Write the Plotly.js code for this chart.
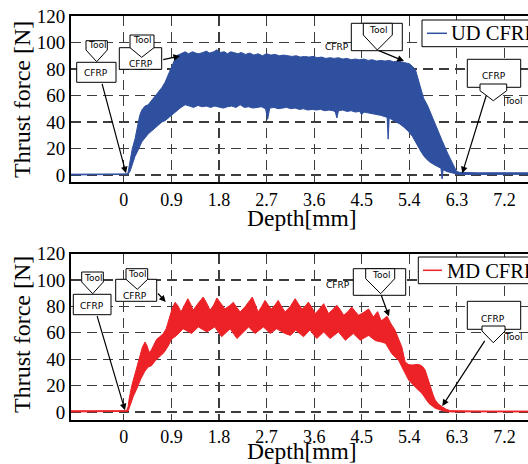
<!DOCTYPE html>
<html><head><meta charset="utf-8">
<script src="https://cdn.plot.ly/plotly-3.0.1.min.js"></script>
<style>html,body{margin:0;padding:0;overflow:hidden;background:#fff;width:528px;height:464px}#chart{width:560px;height:464px}</style>
</head><body><div id="chart"></div><script>
// ---------- data ----------
const xTickVals = [0, 0.9, 1.8, 2.7, 3.6, 4.5, 5.4, 6.3, 7.2];
const xTickText = ["0", "0.9", "1.8", "2.7", "3.6", "4.5", "5.4", "6.3", "7.2"];
const yTickVals = [0, 20, 40, 60, 80, 100, 120];

// UD CFRP: upper and lower envelope of the thrust-force band
const udUpperDepth = [-1.0,-0.6,-0.2,0.05,0.08,0.12,0.16,0.21,0.26,0.30,0.34,0.40,0.46,0.52,0.58,0.65,0.72,0.78,0.84,0.90,0.95,1.00,1.05,1.10,1.16,1.22,1.30,1.36,1.42,1.50,1.56,1.62,1.70,1.76,1.82,1.90,1.96,2.02,2.10,2.16,2.22,2.30,2.38,2.46,2.54,2.62,2.70,2.78,2.86,2.94,3.02,3.10,3.18,3.26,3.34,3.42,3.50,3.58,3.66,3.74,3.82,3.90,3.98,4.06,4.14,4.22,4.30,4.38,4.46,4.54,4.62,4.70,4.78,4.86,4.94,5.02,5.10,5.18,5.26,5.34,5.40,5.46,5.52,5.57,5.62,5.67,5.75,5.83,5.94,6.02,6.13,6.21,6.29,6.34,6.45,6.7,7.0,7.3,7.74];
const udUpperForce = [0.6,0.7,0.6,0.8,2,12,20,27,38,45,49,52,53,56,59,62,66,70,76,81,86,90,91,92,93,91.5,93,92,91.5,92.5,93.5,92,93,94.5,92.5,93,91.5,93,92,91.5,92.5,91,92,90.5,91.5,90,91.5,90.5,91,90,90.5,90,89.5,90,89,89.5,89,89.5,88.5,89,88,88.5,88,88.5,87.5,88,87,87.5,87,87.5,86.5,87,86,86.5,86,86.5,85.5,86,85,84.5,84,82,79,72,63,58,52,44,34,26,16,9,3,2,1.8,1.6,1.7,1.5,1.6];
const udLowerDepth = [-1.0,-0.6,-0.2,0.05,0.08,0.12,0.16,0.21,0.26,0.30,0.34,0.40,0.46,0.52,0.58,0.65,0.72,0.78,0.84,0.90,0.95,1.00,1.05,1.10,1.16,1.24,1.32,1.40,1.48,1.56,1.64,1.72,1.80,1.88,1.96,2.04,2.12,2.20,2.28,2.36,2.44,2.52,2.60,2.68,2.72,2.76,2.84,2.92,3.00,3.08,3.16,3.24,3.32,3.40,3.48,3.56,3.64,3.72,3.80,3.88,3.96,4.00,4.03,4.06,4.14,4.22,4.30,4.38,4.46,4.50,4.54,4.62,4.70,4.78,4.86,4.94,4.98,5.00,5.02,5.06,5.14,5.22,5.30,5.38,5.46,5.55,5.63,5.70,5.78,5.86,5.94,6.00,6.02,6.04,6.12,6.20,6.28,6.34,6.45,6.7,7.0,7.3,7.74];
const udLowerForce = [0,0,0,0,0.5,3,8,14,18,22,25,28,31,33,35,38,40,41,43,45,47,49,50,51.5,53,52,51,52.5,51.5,52,51,52,51.5,50.5,51.5,52,51,53,51,51.5,50.5,51,51.5,50,42,50.5,51,50,50.5,51,50,50.5,49.5,50,49,49.5,49,49.5,48.5,49,48.5,47.5,43,48.5,49,48,48.5,47.5,48,45.5,47.5,47,46.5,46,45,44,43.5,27,43,42,40.5,38.5,36,33,29,22,17,13,10,8,6,5,-3,4,2.5,1.5,0.6,0.3,0.4,0.4,0.5,0.4,0.5];

// MD CFRP: upper and lower envelope of the thrust-force band
const mdUpperDepth = [-1.0,-0.6,-0.2,0.05,0.08,0.10,0.15,0.20,0.25,0.30,0.35,0.40,0.44,0.48,0.52,0.57,0.62,0.68,0.74,0.80,0.84,0.88,0.92,0.97,1.03,1.08,1.14,1.21,1.26,1.31,1.40,1.50,1.56,1.63,1.70,1.76,1.84,1.91,2.00,2.07,2.14,2.20,2.30,2.43,2.49,2.54,2.61,2.67,2.73,2.79,2.86,2.92,2.98,3.05,3.15,3.24,3.30,3.37,3.43,3.49,3.56,3.62,3.70,3.78,3.83,3.87,3.95,4.03,4.10,4.16,4.24,4.31,4.38,4.44,4.54,4.63,4.72,4.80,4.87,4.94,4.98,5.05,5.13,5.20,5.26,5.32,5.38,5.45,5.55,5.61,5.66,5.70,5.75,5.80,5.85,5.89,5.95,6.02,6.10,6.18,6.30,6.6,7.0,7.4,7.74];
const mdUpperForce = [0.9,1.0,0.8,1.0,4,10,20,27,35,43,49,53,50,45,47,51,55,57,59,63,68,74,79,83,80,75.7,80,85.8,82,77,82,87,83,77,81,86.3,82,78,80.5,83,79,75.7,80,87,81,75.7,80,84.5,81,78,81,84.5,80,75.7,80,85.8,82,78,80,83.2,79,74.5,78,82,78,74.5,77.5,80.8,77,73.2,76,79.5,76,73.2,75.5,78,72,76,69,71.5,72.5,67,62,55,49,38,36,35.5,36,35.5,34,31.7,25,19,13,9,6,4,2,1,0.8,0.8,0.7,0.8,0.7];
const mdLowerDepth = [-1.0,-0.6,-0.2,0.05,0.08,0.12,0.18,0.25,0.32,0.40,0.46,0.52,0.60,0.68,0.76,0.84,0.90,1.00,1.12,1.28,1.41,1.57,1.72,1.85,2.01,2.14,2.36,2.48,2.64,2.77,2.89,3.05,3.15,3.25,3.40,3.52,3.65,3.78,3.90,4.06,4.19,4.34,4.47,4.63,4.76,4.87,4.95,5.07,5.20,5.29,5.39,5.51,5.64,5.77,5.89,6.08,6.20,6.6,7.0,7.4,7.74];
const mdLowerForce = [0,0,0,0.1,0.5,5,12,18,25,31,34,35,39,42,45,50,55,58,63,59.4,64.4,60.6,64.4,57,63,55.6,64.4,59.4,64.4,59.4,63,59.4,58,61.9,57,62,55.6,60.6,55.6,60.6,54.3,59.4,54.3,58,54,53,52,44,39,31.7,24,19,14,6.5,2.8,0.3,0,0.1,0,0.1,0];

const seriesNames = ["UD CFRP", "MD CFRP"];
const seriesColors = ["#2f4f9f", "#ec2227"];
const xTitle = "Depth[mm]";
const yTitle = "Thrust force [N]";

// ---------- geometry helpers (pixel -> paper) ----------
const FIG_W = 560, FIG_H = 464, PLOT_L = 71, PLOT_R = 533;
const fx = p => (p - PLOT_L) / (PLOT_R - PLOT_L);
const fy = p => (FIG_H - p) / FIG_H;

const FONT_SERIF = "Liberation Serif, Times New Roman, serif";
const FONT_SMALL = "DejaVu Sans, sans-serif";

// ---------- traces ----------
function band(xl, yl, xu, yu, color, name, xa, ya) {
  return [
    {x: xl, y: yl, type: "scatter", mode: "lines", line: {color: color, width: 1}, name: name, showlegend: false, xaxis: xa, yaxis: ya, hoverinfo: "skip"},
    {x: xu, y: yu, type: "scatter", mode: "lines", fill: "tonexty", fillcolor: color, line: {color: color, width: 1}, name: name, showlegend: false, xaxis: xa, yaxis: ya, hoverinfo: "skip"}
  ];
}
const data = [
  ...band(udLowerDepth, udLowerForce, udUpperDepth, udUpperForce, seriesColors[0], seriesNames[0], "x", "y"),
  ...band(mdLowerDepth, mdLowerForce, mdUpperDepth, mdUpperForce, seriesColors[1], seriesNames[1], "x2", "y2")
];

// ---------- decorations: tool/CFRP icons, arrows, legends, titles ----------
const icons = [
  {rect:[76.7,62.3,116,82.3], cfrp:[96,73], tool:[86,107.3,40.7,50,96.7,61.7], toolText:[96.7,45.5], arrow:[101.7,82.3,126,173.3]},
  {rect:[119.3,47.7,161.7,69.3], cfrp:[141,63.5], tool:[130,154,35,47.7,141.7,57.3], toolText:[142,40], arrow:[161.7,60,180,56]},
  {rect:[351.3,23.3,402.3,50.7], cfrp:[336.5,46.5], tool:[363.3,392.3,23.3,35,377.3,50], toolText:[377.7,29.5], arrow:[377.3,50,404,61]},
  {rect:[467.3,59.3,520.7,87.3], cfrp:[494,76], tool:[480,506.7,84,90.7,493.3,100.7], toolText:[512.5,101], arrow:[486.7,94,462.3,173.3]},
  {rect:[73.3,294.3,111,314.7], cfrp:[92,306], tool:[81.7,103.3,272,282,92.7,293.7], toolText:[92.7,277.5], arrow:[96.7,314.7,125,410.3]},
  {rect:[115.7,279.3,156.7,301.3], cfrp:[135,296], tool:[126,147.7,268.7,279.3,137.3,289.3], toolText:[137,273.7], arrow:[156.7,292,165.7,302]},
  {rect:[353.3,268.7,405.7,295.3], cfrp:[338,284.7], tool:[365.7,394.7,268.7,278.7,380.7,293.7], toolText:[380.7,274.5], arrow:[380.7,293.7,389,316.3]},
  {rect:[467.3,301.3,520.7,329.3], cfrp:[493.3,318.7], tool:[482,505,326,331,493.3,342.7], toolText:[513.3,337.3], arrow:[485.7,339.3,442.3,406]}
];
const legends = [
  {box:[422,20,575,46.7], line:[427,447,33.3], text:[449,33.5], idx:0},
  {box:[418.3,257,575,283.7], line:[423,442,270.3], text:[444.7,270.5], idx:1}
];
const titles = [
  {text: xTitle, x: 302, y: 218, angle: 0, size: 23.5},
  {text: xTitle, x: 302, y: 451, angle: 0, size: 23.5},
  {text: yTitle, x: 22, y: 100, angle: -90, size: 24},
  {text: yTitle, x: 22, y: 335, angle: -90, size: 24}
];

const shapes = [], annotations = [];
icons.forEach(ic => {
  shapes.push({type:"rect", xref:"paper", yref:"paper", x0:fx(ic.rect[0]), x1:fx(ic.rect[2]), y0:fy(ic.rect[3]), y1:fy(ic.rect[1]), line:{color:"#000", width:1}, fillcolor:"#fff", layer:"above"});
  const [l, r, top, sh, px, py] = ic.tool;
  shapes.push({type:"path", xref:"paper", yref:"paper", path:`M${fx(l)},${fy(top)} L${fx(r)},${fy(top)} L${fx(r)},${fy(sh)} L${fx(px)},${fy(py)} L${fx(l)},${fy(sh)} Z`, line:{color:"#000", width:1}, fillcolor:"#fff", layer:"above"});
  annotations.push({xref:"paper", yref:"paper", x:fx(ic.cfrp[0]), y:fy(ic.cfrp[1]), text:"CFRP", showarrow:false, xanchor:"center", yanchor:"middle", font:{family:FONT_SMALL, size:9, color:"#000"}});
  annotations.push({xref:"paper", yref:"paper", x:fx(ic.toolText[0]), y:fy(ic.toolText[1]), text:"Tool", showarrow:false, xanchor:"center", yanchor:"middle", font:{family:FONT_SMALL, size:9, color:"#000"}});
  const [tx, ty, hx, hy] = ic.arrow;
  annotations.push({xref:"paper", yref:"paper", x:fx(hx), y:fy(hy), ax:tx-hx, ay:ty-hy, axref:"pixel", ayref:"pixel", text:"", showarrow:true, arrowhead:2, arrowsize:1.1, arrowwidth:1.2, arrowcolor:"#000", standoff:0, startstandoff:0});
});
legends.forEach(lg => {
  shapes.push({type:"rect", xref:"paper", yref:"paper", x0:fx(lg.box[0]), x1:fx(lg.box[2]), y0:fy(lg.box[3]), y1:fy(lg.box[1]), line:{color:"#000", width:1}, fillcolor:"#fff", layer:"above"});
  shapes.push({type:"line", xref:"paper", yref:"paper", x0:fx(lg.line[0]), x1:fx(lg.line[1]), y0:fy(lg.line[2]), y1:fy(lg.line[2]), line:{color:seriesColors[lg.idx], width:1.5}, layer:"above"});
  annotations.push({xref:"paper", yref:"paper", x:fx(lg.text[0]), y:fy(lg.text[1]), text:seriesNames[lg.idx], showarrow:false, xanchor:"left", yanchor:"middle", font:{family:FONT_SERIF, size:20.5, color:"#000"}});
});
titles.forEach(t => {
  annotations.push({xref:"paper", yref:"paper", x:fx(t.x), y:fy(t.y), text:t.text, textangle:t.angle, showarrow:false, xanchor:"center", yanchor:"middle", font:{family:FONT_SERIF, size:t.size, color:"#000"}});
});

// ---------- axes ----------
function xAxis(anchor) {
  return {anchor: anchor, range: [-1.0, 7.74], tickmode: "array", tickvals: xTickVals, ticktext: xTickText,
    showgrid: true, gridcolor: "#3c3c3c", gridwidth: 1.2, griddash: "10px,6px", zeroline: false,
    showline: true, linecolor: "#000", linewidth: 2, mirror: true, ticks: "", automargin: false,
    tickfont: {family: FONT_SERIF, size: 18, color: "#000"}};
}
function yAxis(anchor, domain, lo) {
  return {anchor: anchor, domain: domain, range: [lo, 120], tickmode: "array", tickvals: yTickVals,
    showgrid: true, gridcolor: "#3c3c3c", gridwidth: 1.2, griddash: "10px,6px", zeroline: false,
    showline: true, linecolor: "#000", linewidth: 2, mirror: true, ticks: "", automargin: false,
    tickfont: {family: FONT_SERIF, size: 19, color: "#000"}};
}

const layout = {
  width: FIG_W, height: FIG_H,
  margin: {l: PLOT_L, r: FIG_W - PLOT_R, t: 0, b: 0, pad: 0, autoexpand: false},
  paper_bgcolor: "#fff", plot_bgcolor: "rgba(0,0,0,0)",
  showlegend: false,
  xaxis: xAxis("y"),
  yaxis: yAxis("x", [1 - 182 / FIG_H, 1 - 16 / FIG_H], -5.3),
  xaxis2: xAxis("y2"),
  yaxis2: yAxis("x2", [1 - 419.5 / FIG_H, 1 - 253.5 / FIG_H], -5.7),
  shapes: shapes,
  annotations: annotations
};

Plotly.newPlot("chart", data, layout, {displayModeBar: false, staticPlot: true});
</script></body></html>
